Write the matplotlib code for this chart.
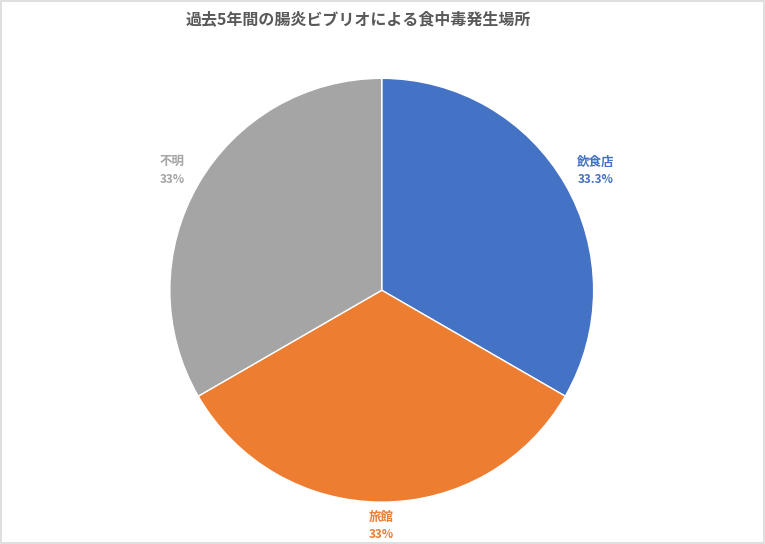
import matplotlib.pyplot as plt
from matplotlib.patches import Rectangle

plt.rcParams['font.family'] = ['Noto Sans CJK JP', 'DejaVu Sans']

# data
title = "過去5年間の腸炎ビブリオによる食中毒発生場所"
places = ["飲食店", "旅館", "不明"]
shares = [33.3, 33.3, 33.3]
pct_labels = ["33.3%", "33%", "33%"]
colors = ["#4472C4", "#ED7D31", "#A5A5A5"]

fig = plt.figure(figsize=(7.65, 5.44), dpi=100)
ax = fig.add_axes([0.222, 0.077, 0.554, 0.779])

wedges, _ = ax.pie(shares, colors=colors, startangle=90, counterclock=False,
                   wedgeprops=dict(edgecolor='white', linewidth=1.0))
ax.set_xlim(-1, 1)
ax.set_ylim(-1, 1)
ax.set_aspect('equal')

# label positions relative to the pie (radius = 1): x, y of name, y of percent
label_pos = [(1.01, 0.604, 0.524), (0.0, -1.071, -1.151), (-0.99, 0.608, 0.524)]
for (x, yn, yp), name, pct, c in zip(label_pos, places, pct_labels, colors):
    ax.text(x, yn, name, color=c, ha='center', va='center',
            fontsize=9, fontweight='bold', clip_on=False)
    ax.text(x, yp, pct, color=c, ha='center', va='center',
            fontsize=8.5, fontweight='bold', clip_on=False)

fig.text(0.468, 0.965, title, ha='center', va='center', fontsize=11.5,
         fontweight='bold', color='#595959')

# light frame around the chart
fig.patches.append(Rectangle((0.001, 0.002), 0.998, 0.996, transform=fig.transFigure,
                             fill=False, edgecolor='#D9D9D9', linewidth=1.2))

fig.savefig("out.png", dpi=100)
